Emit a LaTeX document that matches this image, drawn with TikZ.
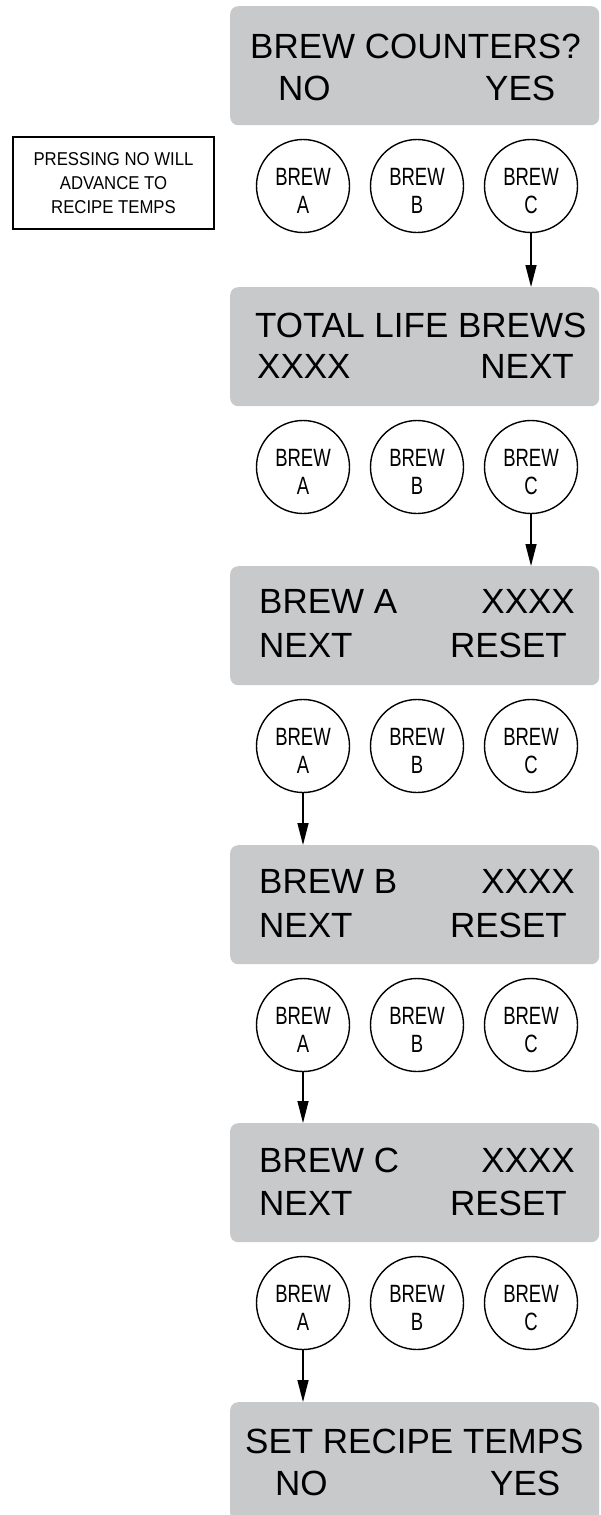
\documentclass[tikz,border=0pt]{standalone}
\usepackage{fontspec}
\setmainfont{Liberation Sans}
\newfontfamily\condfont[FakeStretch=0.74]{Liberation Sans}
\newfontfamily\notefont[FakeStretch=0.9]{Liberation Sans}
\usetikzlibrary{arrows.meta}
\definecolor{panelgray}{RGB}{200,201,203}
\begin{document}
\begin{tikzpicture}[x=1pt,y=-1pt,
  panel/.style={fill=panelgray, draw=none, rounded corners=8pt, minimum width=369pt, minimum height=119pt, anchor=north west, inner sep=0pt},
  ptext/.style={font=\fontsize{35}{42}\selectfont, inner sep=0pt},
  btn/.style={circle, draw, line width=1.4pt, minimum size=93pt, inner sep=0pt, align=center, font=\condfont\fontsize{25}{28}\selectfont, text height=54pt, text depth=0pt},
  flow/.style={line width=1.4pt, -{Triangle[length=22pt,width=11pt]}},
  notebox/.style={draw, line width=1.4pt, minimum width=201pt, minimum height=92pt, inner sep=0pt, align=center, font=\notefont\fontsize{18.6}{24}\selectfont}]
\useasboundingbox (0,0) rectangle (601,1515);

% panels
\node[panel] (p1) at (230,6) {};
\node[panel] (p2) at (230,287) {};
\node[panel] (p3) at (230,566) {};
\node[panel] (p4) at (230,845) {};
\node[panel] (p5) at (230,1123) {};
\node[panel] (p6) at (230,1402) {};

% panel texts
\node[ptext, anchor=base west] (t1a) at (250,58) {BREW COUNTERS?};
\node[ptext, anchor=base west] (t1b) at (278,100) {NO};
\node[ptext, anchor=base west] (t1c) at (485,100) {YES};

\node[ptext, anchor=base west] (t2a) at (255,337) {TOTAL LIFE BREWS};
\node[ptext, anchor=base west] (t2b) at (257,378) {XXXX};
\node[ptext, anchor=base east] (t2c) at (574,378) {NEXT};

\node[ptext, anchor=base west] (t3a) at (259,613) {BREW A};
\node[ptext, anchor=base east] (t3b) at (575,613) {XXXX};
\node[ptext, anchor=base west] (t3c) at (259,657) {NEXT};
\node[ptext, anchor=base east] (t3d) at (567,657) {RESET};

\node[ptext, anchor=base west] (t4a) at (259,893) {BREW B};
\node[ptext, anchor=base east] (t4b) at (575,893) {XXXX};
\node[ptext, anchor=base west] (t4c) at (259,937) {NEXT};
\node[ptext, anchor=base east] (t4d) at (567,937) {RESET};

\node[ptext, anchor=base west] (t5a) at (259,1172) {BREW C};
\node[ptext, anchor=base east] (t5b) at (575,1172) {XXXX};
\node[ptext, anchor=base west] (t5c) at (259,1215) {NEXT};
\node[ptext, anchor=base east] (t5d) at (567,1215) {RESET};

\node[ptext, anchor=base west] (t6a) at (245,1453) {SET RECIPE TEMPS};
\node[ptext, anchor=base west] (t6b) at (275,1495) {NO};
\node[ptext, anchor=base west] (t6c) at (490,1495) {YES};

% buttons
\foreach \r/\y in {1/186,2/467,3/746,4/1025,5/1303}{
  \node[btn] (c\r a) at (303,\y) {BREW\\A};
  \node[btn] (c\r b) at (417,\y) {BREW\\B};
  \node[btn] (c\r c) at (531,\y) {BREW\\C};
}

% note
\node[notebox] (note) at (113.5,183) {PRESSING NO WILL\\ADVANCE TO\\RECIPE TEMPS};

% arrows
\draw[flow] (c1c.south) -- (p2.north -| c1c);
\draw[flow] (c2c.south) -- (p3.north -| c2c);
\draw[flow] (c3a.south) -- (p4.north -| c3a);
\draw[flow] (c4a.south) -- (p5.north -| c4a);
\draw[flow] (c5a.south) -- (p6.north -| c5a);
\end{tikzpicture}
\end{document}
